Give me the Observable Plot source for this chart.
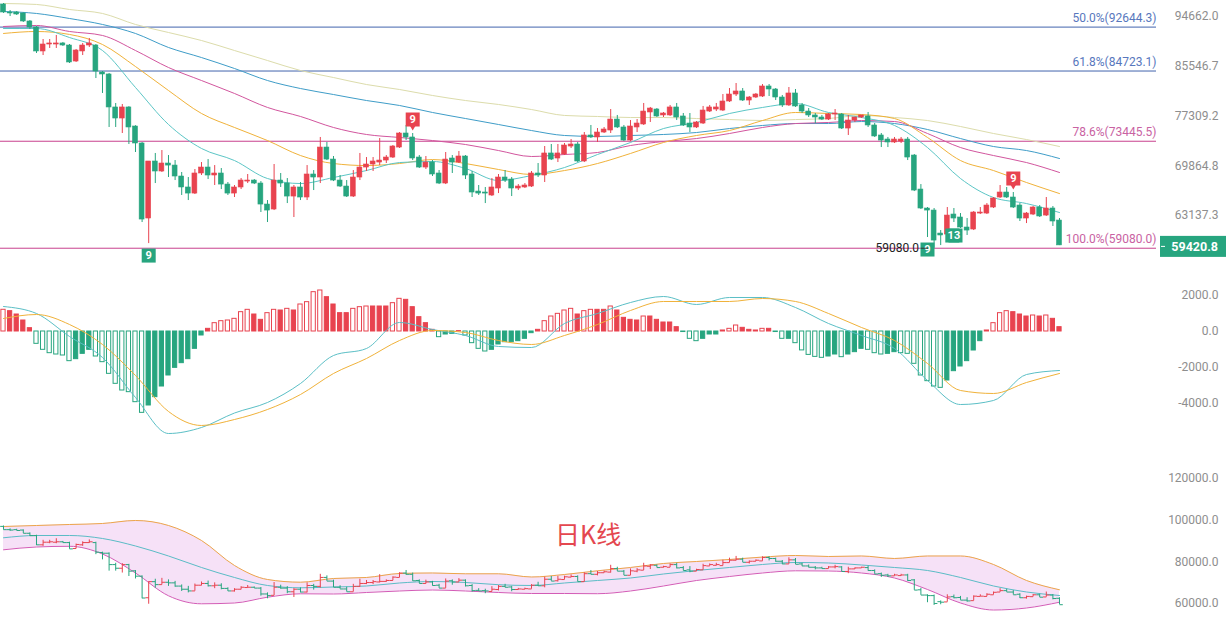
<!DOCTYPE html>
<html><head><meta charset="utf-8">
<script src="https://cdn.jsdelivr.net/npm/d3@7"></script>
<script src="https://cdn.jsdelivr.net/npm/@observablehq/plot@0.6"></script>
<style>
html,body{margin:0;padding:0;background:#fff;}
#chart{position:relative;width:1226px;height:617px;overflow:hidden;background:#fff;font-family:Roboto,"Noto Sans",sans-serif;}
#chart > svg{position:absolute;left:0;}
#wm{position:absolute;left:555px;top:521px;font-size:25px;color:#e4474f;font-family:"Noto Sans CJK SC",sans-serif;line-height:1;z-index:3;}
</style></head><body>
<div id="chart"><div id="wm">日K线</div></div>
<script>
// ---------- daily candles (price) ----------
const open = [97010,95440,95440,95250,93710,92570,88160,89420,89420,89610,
89240,86380,88160,89240,89240,84470,84130,78670,76920,78670,
75680,73110,62760,70480,69060,70190,69900,68360,66850,66030,
68780,69620,68500,68780,67250,66030,66850,67660,67802,67390,
64570,63920,67802,67390,65630,66850,65500,68640,68220,72510,
70760,67802,66980,65630,68220,69620,70050,70330,70618,71050,
72510,74610,74010,71050,69620,70330,68780,67390,70910,70330,
71200,68640,66300,66170,65770,66710,68220,67940,66710,66850,
66980,68780,68500,71640,70910,71490,72660,72960,70480,74310,
74010,74760,75063,76760,75530,73551,75530,75990,77870,78340,
77400,77400,78670,77240,76140,75530,76140,78020,78340,78181,
79630,80770,81270,79788,80280,80440,82100,81600,80280,78990,
80940,78990,78020,77400,77080,76760,77550,77550,75370,76607,
77080,77240,75840,74310,73700,73260,73400,73700,71340,66570,
64050,63786,60870,60750,63270,62890,61620,61370,63400,63400,
64180,65500,66170,65500,64440,62760,63270,64180,63140,64050,
62502];
const high = [97200,95825,95630,95350,93895,92760,90335,90335,91080,89790,
89420,88520,89610,90520,89420,84640,84300,79310,79150,78800,
75800,73250,70480,71640,72070,71340,70618,68920,68220,69340,
70330,70760,69900,69480,67530,67120,68080,68640,67940,67660,
65098,70050,68780,68080,67120,67530,69900,69195,74010,73260,
71200,68500,67802,69195,71640,71050,71050,73850,71340,72810,
74760,75840,74610,71340,71200,70618,69195,71780,71340,71930,
71340,69060,67120,66850,68080,68640,69195,68220,67250,67390,
69060,70190,72660,72960,72960,73110,73700,73260,74760,75840,
75370,75530,78340,77400,75840,76607,76760,79310,78670,78500,
77870,78990,79310,77710,77710,76450,78830,78990,79310,80770,
81760,82600,81760,80440,80940,82430,82430,81760,80610,81930,
81600,79310,78500,77710,77400,77710,78340,77710,77400,77080,
77400,77870,76140,74610,74010,74010,74010,74010,71490,67250,
64180,64050,61243,64180,64050,63400,62760,63660,64180,64700,
65500,67120,66850,66170,64700,63530,64310,64440,65500,64310,
62760];
const low = [95250,94660,94860,93520,92190,87800,87440,88700,88700,89060,
86030,86210,87440,88880,83440,80940,75530,75530,74610,72960,
71780,62250,59640,67390,68920,68220,67802,65770,65098,65900,
68500,67940,67120,66570,65770,65500,66570,67390,67250,63530,
62250,63786,66850,64700,62890,65098,65098,66436,67390,70618,
67660,66850,65500,65500,67802,69060,69060,69900,70190,70910,
72370,73551,70618,69480,69340,68360,67250,67250,68780,70190,
67940,65500,65770,64700,65630,66030,67530,65630,66436,66710,
66850,68220,67530,70618,70330,71340,72370,70330,70330,73850,
73260,74610,74610,75370,73400,73400,74760,75840,76300,77080,
77080,77240,76607,75680,74760,75370,75990,77870,78020,78020,
79470,80440,79630,78990,80120,80280,80440,79788,78670,78830,
78670,77710,77080,76140,76607,76607,76607,75220,74310,76300,
76920,75530,74010,72510,72510,73110,73110,70618,66300,63920,
60380,59080,59400,60630,62250,61500,60630,61243,63270,63270,
64050,65370,65370,64050,62380,62120,63140,62890,63020,61750,
59400];
const close = [95440,95250,95050,93710,92570,88160,89420,89610,89610,89240,
86210,88334,89240,89610,84640,84130,78670,76920,78670,75530,
73110,62630,70480,69060,70190,69900,68360,66850,66030,68780,
69620,68500,68780,67250,66030,66850,67802,67802,67390,64570,
63786,67802,67390,65630,66850,65500,68640,68220,72510,70760,
67802,66980,65630,68220,69620,70050,70480,70618,71050,72660,
74610,74010,70910,69620,70330,68640,67390,70760,70330,71200,
68500,66170,66030,66030,66850,68220,67802,66710,66980,67120,
68780,68500,71640,70760,71640,72810,72960,70480,74310,74010,
74760,75220,76760,75530,73551,75680,76140,78020,78500,77240,
77710,78670,77080,75840,75530,76300,78181,78670,78670,79630,
80770,81270,79788,80280,80770,82100,81600,80280,78990,80940,
78830,78020,77400,77080,76760,77550,77710,75370,76607,77080,
77400,75840,74160,73551,73260,73700,73700,71050,66436,64050,
63786,60008,60630,63140,62760,61620,61243,63530,63530,64440,
65370,66170,65500,64180,62760,63400,64180,63020,64050,62380,
59420.8];

// ---------- moving averages, read at every 5th candle ----------
const maIdx = [0,5,10,15,20,25,30,35,40,45,50,55,60,65,70,75,80,85,90,95,100,105,110,115,120,125,130,135,140,145,150,155,160];
const maTeal = [92380,92380,90700,88334,81930,75990,72370,70618,68080,67390,68220,69195,70330,70480,69480,67802,68500,69620,71490,73260,75370,76300,77710,78670,79310,77870,77080,75840,72510,68080,65500,64700,63530];
const maYellow = [91450,91820,91270,89420,85500,81428,77710,75530,73551,71340,70190,69900,70190,70760,70190,69340,68640,69195,70190,71640,73260,74310,75063,76607,77870,77710,77550,76920,74010,70618,69195,67530,66030];
const maMagenta = [92760,92950,91820,91080,88334,85330,83103,80940,78670,77240,75530,74460,74010,73551,72960,72070,71200,71490,71780,72810,73400,73850,74610,75530,76140,76300,76607,76450,74610,72510,71340,70330,68920];
const maBlue = [95630,95250,94280,93140,91450,88880,87080,85160,83103,81760,80770,79788,78990,77870,76920,75990,75063,74310,74160,74310,74460,74760,75370,75840,76140,76140,76450,76140,75220,73850,72660,72070,70910];
const maKhaki = [97200,97010,96020,95250,93140,91630,90150,88334,86555,84811,83610,82430,81600,80610,79788,79150,78340,77400,77240,77080,77080,76920,76760,76607,76760,76920,77400,77080,76607,75680,74610,73700,72660];

// ---------- fibonacci levels ----------
const fibPct = ["50.0%","61.8%","78.6%","100.0%"];
const fibValue = [92644.3,84723.1,73445.5,59080.0];
const priceTicks = [94662.0,85546.7,77309.2,69864.8,63137.3];

// ---------- TD sequential labels ----------
const tdIndex = [22,62,140,144,153];
const tdText = ["9","9","9","13","9"];
const tdSide = ["below","above","below","below","above"];

// ---------- MACD ----------
const macdHist = [1206,1130,944,611,185,-685,-1018,-1204,-1278,-1333,
-1648,-1537,-1241,-1018,-1389,-1704,-2352,-2907,-3278,-3370,
-3926,-4519,-4111,-3648,-3056,-2444,-2019,-1759,-1537,-963,
-222,148,463,574,611,704,1074,1204,944,648,
1019,1204,1167,1259,1167,1500,1630,2185,2278,1907,
1500,1019,1019,1259,1352,1389,1389,1389,1389,1574,
1815,1759,1352,796,463,93,-315,-167,-130,20,
-222,-648,-963,-1111,-1018,-722,-593,-593,-537,-407,
-93,93,574,833,981,1167,1259,944,1130,1204,
1204,1204,1389,1167,759,648,611,833,833,648,
500,500,241,-30,-407,-537,-407,-167,-167,56,
148,333,204,93,56,148,148,-30,-407,-407,
-648,-1050,-1300,-1410,-1463,-1389,-1278,-1426,-1278,-1148,
-963,-1018,-1204,-1278,-1241,-1148,-1204,-1241,-1796,-2444,
-2759,-3056,-3130,-2722,-2204,-1944,-1648,-1056,-537,56,
463,1019,1130,1074,944,833,889,833,889,704,
241];
const macdDif = [1389,1000,-278,-1444,-3667,-5667,-5333,-4528,-3944,-2889,-1333,-944,500,111,-222,-833,-889,444,1000,1611,1944,1500,1889,1889,1333,444,-222,-944,-2722,-4056,-3833,-2389,-2167];
const macdDea = [722,944,389,-722,-2444,-4444,-5222,-4889,-4333,-3500,-2333,-1500,-500,56,-56,-500,-722,-222,389,1167,1667,1667,1667,1833,1667,1000,222,-500,-1778,-3278,-3444,-2833,-2333];
const macdTicks = [2000,0,-2000,-4000];

// ---------- Bollinger ----------
const bollUp = [96960,97440,97920,98400,99840,97440,90240,78240,71520,70220,72000,72480,74400,74640,74260,74260,72720,73920,75700,77280,79200,80160,81120,82270,83040,82560,82800,81600,82800,82800,78720,71040,66580];
const bollMid = [91540,92640,92640,91200,87600,82800,77280,72480,68640,67540,67920,68400,69840,70560,70080,69020,68640,69840,71040,72240,74160,75840,77280,78720,79680,79440,78480,77280,75840,72480,68400,65520,63840];
const bollLow = [85780,87120,87460,83760,74640,63700,59860,60240,63020,64660,64560,65280,66000,66480,66000,65280,64800,64800,64700,66000,68400,71040,72960,74640,75700,75600,74640,72240,66720,60240,56880,57840,60620];
const bollTicks = [120000,100000,80000,60000];

// ================= drawing =================
const RED = "#e8434f", GREEN = "#27a57f";
const N = close.length;
const candles = d3.range(N).map(i => ({i, o: open[i], h: high[i], l: low[i], c: close[i],
  lo: Math.min(open[i], close[i]), hi: Math.max(open[i], close[i]), col: close[i] >= open[i] ? RED : GREEN}));
const maRows = maIdx.map((i, k) => ({i, a: maTeal[k], b: maYellow[k], c: maMagenta[k], d: maBlue[k], e: maKhaki[k],
  up: bollUp[k], mid: bollMid[k], lo: bollLow[k], dif: macdDif[k], dea: macdDea[k]}));
const xOpt = {domain: [-0.4545, 174.697], range: [0, 1156], axis: null};
const base = {width: 1226, marginLeft: 0, marginRight: 70, marginTop: 0, marginBottom: 0,
  style: {background: "transparent", overflow: "visible", fontFamily: "Roboto, sans-serif", fontSize: "12px"}};
const line = (rows, key, color) => Plot.line(rows, {x: "i", y: key, stroke: color, strokeWidth: 1, curve: "monotone-x"});
const tickText = (ticks) => Plot.text(ticks, {y: d => d, text: d => d.toFixed(1), frameAnchor: "right", textAnchor: "end", dx: 62, fill: "#8e8e8e", fontSize: 12});

// --- panel 1: price ---
const fibRows = fibValue.map((v, k) => ({v, label: `${fibPct[k]}(${v.toFixed(1)})`, blue: k < 2}));
const tdRows = tdIndex.map((i, k) => ({i, t: tdText[k], above: tdSide[k] === "above", y: tdSide[k] === "above" ? high[i] : low[i]}));
const tdAbove = tdRows.filter(d => d.above), tdBelow1 = tdRows.filter(d => !d.above && d.t.length === 1), tdBelow2 = tdRows.filter(d => !d.above && d.t.length > 1);
const lowIdx = d3.minIndex(low);

const p1 = Plot.plot({...base, height: 266, x: xOpt, y: {type: "log", domain: [56923, 97796], axis: null},
  marks: [
    Plot.ruleY(fibRows, {y: "v", stroke: d => d.blue ? "#4264ad" : "#c8408e", strokeWidth: 1}),
    Plot.text(fibRows, {y: "v", text: "label", frameAnchor: "right", textAnchor: "end", dy: -9, fill: d => d.blue ? "#5877bd" : "#c962a2", fontSize: 12}),
    line(maRows, "e", "#dcdcab"),
    line(maRows, "d", "#3f9dc8"),
    line(maRows, "c", "#d2569e"),
    line(maRows, "b", "#f0b23a"),
    line(maRows, "a", "#5cc6c6"),
    Plot.ruleX(candles, {x: "i", y1: "l", y2: "h", stroke: "col", strokeWidth: 1}),
    Plot.rect(candles, {x1: d => d.i - 0.37, x2: d => d.i + 0.37, y1: "lo", y2: "hi", fill: "col", stroke: "col", strokeWidth: 0.6}),
    // TD labels
    Plot.dot(tdAbove, {x: "i", y: "y", dy: -7, symbol: "triangle", rotate: 180, r: 2.6, fill: RED}),
    Plot.dot(tdAbove, {x: "i", y: "y", dy: -14, symbol: "square", r: 7.9, fill: RED}),
    Plot.text(tdAbove, {x: "i", y: "y", dy: -14, text: "t", fill: "white", fontWeight: "bold", fontSize: 11}),
    Plot.dot(tdBelow1, {x: "i", y: "y", dy: 12, symbol: "square", r: 7.9, fill: GREEN}),
    Plot.text(tdBelow1, {x: "i", y: "y", dy: 12, text: "t", fill: "white", fontWeight: "bold", fontSize: 11}),
    Plot.dot(tdBelow2, {x: "i", y: "y", dy: 13, dx: -1.6, symbol: "square", r: 7.9, fill: GREEN}),
    Plot.dot(tdBelow2, {x: "i", y: "y", dy: 13, dx: 1.6, symbol: "square", r: 7.9, fill: GREEN}),
    Plot.text(tdBelow2, {x: "i", y: "y", dy: 13, text: "t", fill: "white", fontWeight: "bold", fontSize: 11}),
    // lowest price marker
    Plot.text([lowIdx], {x: d => d, y: d => low[d], text: d => low[d].toFixed(1), textAnchor: "end", dx: -15, fill: "#222", fontSize: 12}),
    Plot.link([lowIdx], {x1: d => d - 2.0, x2: d => d - 0.9, y1: d => low[d], y2: d => low[d], stroke: "#333", strokeWidth: 1}),
    tickText(priceTicks)
  ]});
p1.style.top = "0px";
document.getElementById("chart").appendChild(p1);
// last price tag
{
  const last = close[N - 1];
  const yy = p1.scale("y").apply(last);
  const g = d3.select(p1).append("g");
  g.append("rect").attr("x", 1160).attr("y", yy - 9).attr("width", 66).attr("height", 21).attr("fill", GREEN);
  g.append("line").attr("x1", 1161).attr("x2", 1165).attr("y1", yy + 1.5).attr("y2", yy + 1.5).attr("stroke", "#fff");
  g.append("text").attr("x", 1218).attr("y", yy + 1.5).attr("text-anchor", "end").attr("dominant-baseline", "central")
    .attr("fill", "#fff").attr("font-weight", "bold").attr("font-size", 12.5).text(last.toFixed(1));
}

// --- panel 2: MACD ---
const hist = macdHist.map((h, i) => ({i, h, hollow: i === 0 || Math.abs(h) > Math.abs(macdHist[i - 1]), col: h >= 0 ? RED : GREEN}));
const p2 = Plot.plot({...base, height: 184, x: xOpt, y: {domain: [-6611, 3611], axis: null},
  marks: [
    Plot.rect(hist, {x1: d => d.i - 0.32, x2: d => d.i + 0.32, y1: 0, y2: "h", fill: d => d.hollow ? "#ffffff" : d.col, stroke: "col", strokeWidth: 1}),
    line(maRows, "dif", "#5bbfc6"),
    line(maRows, "dea", "#f0b23a"),
    tickText(macdTicks)
  ]});
p2.style.top = "266px";
document.getElementById("chart").appendChild(p2);

// --- panel 3: Bollinger ---
const p3 = Plot.plot({...base, height: 167, x: xOpt, y: {domain: [53280, 133435], axis: null},
  marks: [
    Plot.areaY(maRows, {x: "i", y1: "lo", y2: "up", fill: "#f6e1f7", curve: "monotone-x"}),
    line(maRows, "up", "#eca54a"),
    line(maRows, "mid", "#5bbcc6"),
    line(maRows, "lo", "#d35bb6"),
    Plot.ruleX(candles, {x: "i", y1: "l", y2: "h", stroke: "col", strokeWidth: 1}),
    Plot.link(candles, {x1: d => d.i - 0.5, x2: "i", y1: "o", y2: "o", stroke: "col", strokeWidth: 1}),
    Plot.link(candles, {x1: "i", x2: d => d.i + 0.5, y1: "c", y2: "c", stroke: "col", strokeWidth: 1}),
    tickText(bollTicks)
  ]});
p3.style.top = "450px";
document.getElementById("chart").appendChild(p3);
</script>
</body></html>
